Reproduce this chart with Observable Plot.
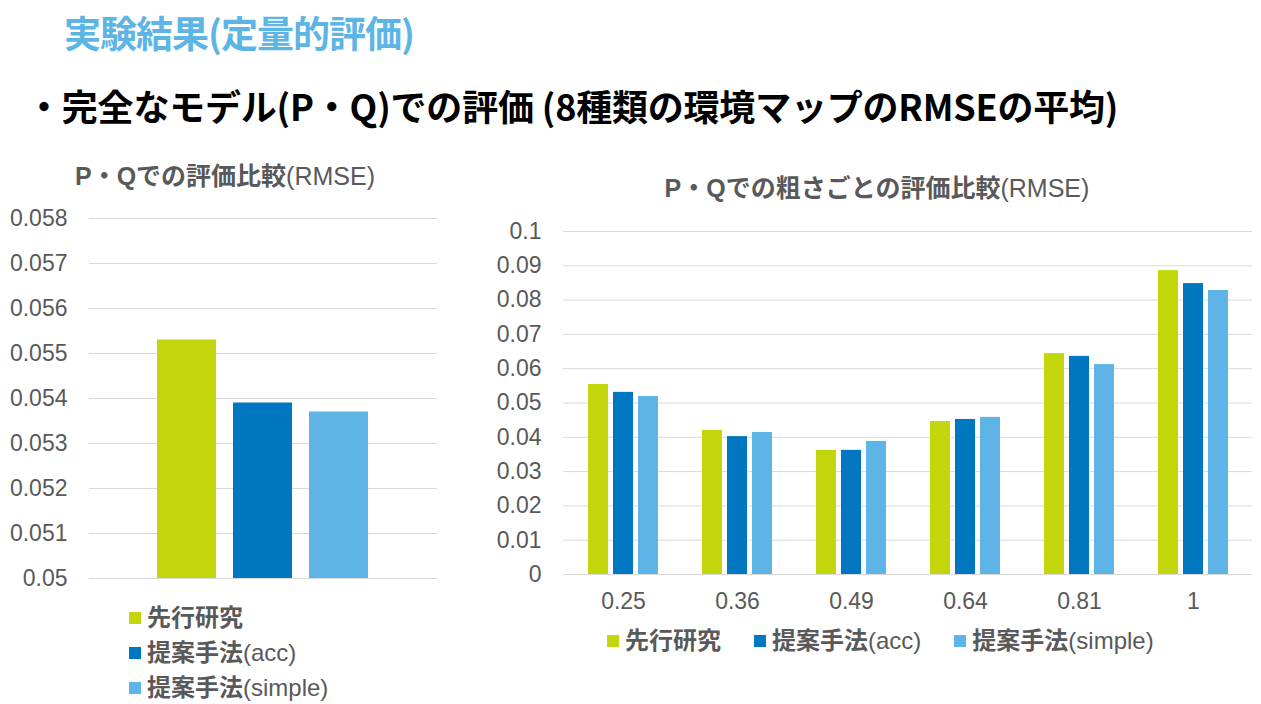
<!DOCTYPE html>
<html lang="ja">
<head>
<meta charset="utf-8">
<script src="https://cdn.jsdelivr.net/npm/d3@7"></script>
<script src="https://cdn.jsdelivr.net/npm/@observablehq/plot@0.6"></script>
<style>
  body { margin: 0; width: 1261px; height: 704px; background: #fff; position: relative; overflow: hidden;
         font-family: "Liberation Sans", "Noto Sans CJK JP", sans-serif; }
  .abs { position: absolute; white-space: nowrap; }
  #title { left: 64px; top: 10px; font-size: 37px; line-height: 44px; font-weight: bold; color: #5DB5E6;
           font-family: "Noto Sans CJK JP", sans-serif; letter-spacing: -1px; }
  #subtitle { left: 26px; top: 82px; font-size: 36px; line-height: 46px; font-weight: bold; color: #000;
              font-family: "Noto Sans CJK JP", sans-serif; letter-spacing: -0.2px; }
  .ctitle { font-size: 25px; line-height: 30px; color: #595959; transform: translateX(-50%); }
  .ctitle b { font-weight: bold; }
  .legend { color: #595959; font-size: 24px; line-height: 28px; }
  .legend .item { display: flex; align-items: center; }
  .legend .sw { width: 12px; height: 12px; margin-right: 6px; flex: none; }
  .legend b { font-weight: bold; }
  #legendLeft { left: 129px; top: 604px; display: flex; flex-direction: column; gap: 7px; }
  #legendRight { left: 607px; top: 627px; display: flex; flex-direction: row; gap: 33px; }
</style>
</head>
<body>
<div id="title" class="abs">実験結果(定量的評価)</div>
<div id="subtitle" class="abs">・完全なモデル(P・Q)での評価 (8種類の環境マップのRMSEの平均)</div>
<div class="abs ctitle" style="left:225px; top:161px;"><b>P・Qでの評価比較</b>(RMSE)</div>
<div class="abs ctitle" style="left:877px; top:173px;"><b>P・Qでの粗さごとの評価比較</b>(RMSE)</div>
<div id="chartLeft" class="abs" style="left:0px; top:200px;"></div>
<div id="chartRightBase" class="abs" style="left:470px; top:215px;"></div>
<div id="chartRightBars" class="abs" style="left:470px; top:215px;"></div>
<div id="legendLeft" class="abs legend"></div>
<div id="legendRight" class="abs legend"></div>

<script>
// Methods compared
const series = ["先行研究", "提案手法(acc)", "提案手法(simple)"];
const seriesColors = ["#C3D60B", "#0077C0", "#5EB4E7"];

// Mean RMSE over all environment maps, per method
const overallRmse = [0.0553, 0.0539, 0.0537];

// Roughness levels and mean RMSE per method
const roughness = ["0.25", "0.36", "0.49", "0.64", "0.81", "1"];
const prevRmse   = [0.0554, 0.0420, 0.0362, 0.0446, 0.0644, 0.0886];
const accRmse    = [0.0531, 0.0402, 0.0362, 0.0452, 0.0636, 0.0848];
const simpleRmse = [0.0519, 0.0414, 0.0388, 0.0458, 0.0612, 0.0828];

// Axis ticks
const leftTicks  = [0.05, 0.051, 0.052, 0.053, 0.054, 0.055, 0.056, 0.057, 0.058];
const rightTicks = [0, 0.01, 0.02, 0.03, 0.04, 0.05, 0.06, 0.07, 0.08, 0.09, 0.1];

const gridColor = "#D9D9D9";
const textColor = "#595959";
const fontFamily = '"Liberation Sans", "Noto Sans CJK JP", sans-serif';
const fmt = d => String(+d.toFixed(4));
const baseStyle = { fontSize: "23px", color: textColor, fontFamily, background: "transparent", overflow: "visible" };
const colorScale = { domain: series, range: seriesColors };

// Left chart: overall comparison
const leftData = series.map((s, i) => ({ series: s, value: overallRmse[i] }));
document.getElementById("chartLeft").append(Plot.plot({
  width: 450, height: 400,
  marginLeft: 89, marginRight: 13, marginTop: 18, marginBottom: 22,
  style: baseStyle,
  x: { domain: series, axis: null, paddingInner: 0.22, paddingOuter: 0.87 },
  y: { domain: [0.05, 0.058], ticks: leftTicks, tickFormat: fmt, tickSize: 0, tickPadding: 22, label: null },
  color: colorScale,
  marks: [
    Plot.ruleY(leftTicks, { stroke: gridColor, strokeWidth: 1 }),
    Plot.barY(leftData, { x: "series", y1: 0.05, y2: "value", fill: "series" })
  ]
}));

// Right chart: per-roughness comparison (axes and grid)
const rightData = [];
roughness.forEach((r, i) => {
  [prevRmse, accRmse, simpleRmse].forEach((vals, j) => {
    rightData.push({ roughness: r, series: series[j], value: vals[i] });
  });
});
const rightDims = { width: 791, height: 400, marginLeft: 93, marginRight: 9, marginTop: 16, marginBottom: 41 };

document.getElementById("chartRightBase").append(Plot.plot({
  ...rightDims,
  style: baseStyle,
  x: { type: "band", domain: roughness, padding: 0, tickSize: 0, tickPadding: 18, label: null },
  y: { domain: [0, 0.1], ticks: rightTicks, tickFormat: fmt, tickSize: 0, tickPadding: 22, label: null },
  marks: [
    Plot.ruleY(rightTicks, { stroke: gridColor, strokeWidth: 1 })
  ]
}));

// Right chart: grouped bars, one facet per roughness level
document.getElementById("chartRightBars").append(Plot.plot({
  ...rightDims,
  style: baseStyle,
  facet: { data: rightData, x: "roughness" },
  fx: { domain: roughness, paddingInner: 0.38, paddingOuter: 0.19, axis: null, label: null },
  x: { domain: series, paddingInner: 0.2, paddingOuter: 0, axis: null },
  y: { domain: [0, 0.1], axis: null },
  color: colorScale,
  marks: [
    Plot.barY(rightData, { x: "series", y: "value", fill: "series" })
  ]
}));

// Legends: the Japanese part of each name is set heavier than the Latin suffix
function buildLegend(id) {
  const el = document.getElementById(id);
  series.forEach((s, i) => {
    const item = document.createElement("div");
    item.className = "item";
    const sw = document.createElement("span");
    sw.className = "sw";
    sw.style.background = seriesColors[i];
    const label = document.createElement("span");
    const m = s.match(/^([^(]*)(\(.*\))?$/);
    const jp = document.createElement("b");
    jp.textContent = m[1];
    label.append(jp);
    if (m[2]) label.append(document.createTextNode(m[2]));
    item.append(sw, label);
    el.append(item);
  });
}
buildLegend("legendLeft");
buildLegend("legendRight");
</script>
</body>
</html>
